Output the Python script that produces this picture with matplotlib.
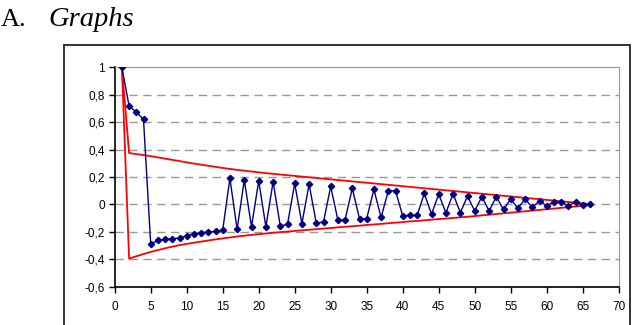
import matplotlib
matplotlib.use("Agg")
import matplotlib.pyplot as plt
from matplotlib.patches import Rectangle

lags = list(range(1, 67))
acf = [1.0, 0.717, 0.674, 0.62, -0.29, -0.262, -0.255, -0.25, -0.245, -0.227,
       -0.215, -0.205, -0.203, -0.197, -0.187, 0.19, -0.182, 0.178, -0.163, 0.171,
       -0.163, 0.165, -0.158, -0.144, 0.153, -0.14, 0.147, -0.137, -0.128, 0.131,
       -0.115, -0.11, 0.117, -0.105, -0.103, 0.109, -0.095, 0.099, 0.099, -0.083,
       -0.08, -0.08, 0.08, -0.071, 0.075, -0.061, 0.078, -0.06, 0.06, -0.047,
       0.056, -0.047, 0.056, -0.037, 0.039, -0.027, 0.039, -0.022, 0.027, -0.012,
       0.019, 0.019, -0.012, 0.019, -0.007, 0.002]
upper = [1.0, 0.375, 0.367, 0.360, 0.352, 0.343, 0.334, 0.325, 0.316, 0.307,
         0.298, 0.290, 0.282, 0.274, 0.266, 0.259, 0.252, 0.246, 0.240, 0.234,
         0.228, 0.223, 0.218, 0.213, 0.208, 0.203, 0.198, 0.193, 0.188, 0.183,
         0.178, 0.173, 0.168, 0.163, 0.158, 0.153, 0.148, 0.143, 0.138, 0.133,
         0.128, 0.123, 0.118, 0.113, 0.108, 0.103, 0.098, 0.093, 0.088, 0.083,
         0.078, 0.073, 0.068, 0.063, 0.058, 0.053, 0.048, 0.043, 0.038, 0.033,
         0.028, 0.023, 0.018, 0.013, 0.008, 0.003]
lower = [1.0, -0.395, -0.378, -0.362, -0.346, -0.333, -0.320, -0.308, -0.297, -0.288,
         -0.279, -0.271, -0.263, -0.255, -0.248, -0.241, -0.234, -0.228, -0.222, -0.217,
         -0.212, -0.207, -0.202, -0.198, -0.193, -0.189, -0.185, -0.180, -0.176, -0.172,
         -0.167, -0.163, -0.159, -0.155, -0.150, -0.146, -0.142, -0.137, -0.133, -0.129,
         -0.124, -0.120, -0.116, -0.111, -0.107, -0.103, -0.099, -0.094, -0.090, -0.085,
         -0.080, -0.075, -0.070, -0.065, -0.060, -0.055, -0.050, -0.045, -0.040, -0.035,
         -0.030, -0.025, -0.020, -0.015, -0.010, -0.005]

xticks = list(range(0, 75, 5))
yticks = [-0.6, -0.4, -0.2, 0, 0.2, 0.4, 0.6, 0.8, 1]
ylabels = ["-0,6", "-0,4", "-0,2", "0", "0,2", "0,4", "0,6", "0,8", "1"]

W, H = 635, 325
fig = plt.figure(figsize=(W / 100, H / 100), dpi=100)
fig.patch.set_facecolor("white")

# outer chart frame
fig.patches.append(Rectangle((64 / W, -0.05), (630 - 64) / W, 1.05 - 45 / H,
                             transform=fig.transFigure, fill=False,
                             edgecolor="#222222", linewidth=1.3))

fig.text(1 / W, 1 - 26 / H, "A.", fontfamily="Liberation Serif", fontsize=19,
         ha="left", va="baseline")
fig.text(48 / W, 1 - 26 / H, "Graphs", fontfamily="Liberation Serif", fontsize=20.5,
         style="italic", ha="left", va="baseline")

ax = fig.add_axes([114.7 / W, (H - 286.7) / H, 504 / W, (286.7 - 67.3) / H])
ax.set_xlim(0, 70)
ax.set_ylim(-0.6, 1)

for y in yticks[:-1]:
    ax.axhline(y, color="#999999", linewidth=1.0, linestyle=(0, (6, 4)), zorder=1)

ax.plot(lags, upper, color="#FF0000", linewidth=1.3, zorder=2)
ax.plot(lags, lower, color="#FF0000", linewidth=1.3, zorder=2)
ax.plot(lags, acf, color="#000080", linewidth=1.0, marker="D", markersize=3.2,
        markerfacecolor="#000080", markeredgecolor="#000080", zorder=3)

ax.set_xticks(xticks)
ax.set_xticklabels([str(t) for t in xticks])
ax.set_yticks(yticks)
ax.set_yticklabels(ylabels)
for lab in ax.get_xticklabels() + ax.get_yticklabels():
    lab.set_fontfamily("Liberation Sans")
    lab.set_fontsize(8.5)
ax.tick_params(direction="out", length=4, width=1, color="black", pad=3)
ax.tick_params(axis="x", pad=6)

ax.spines["left"].set_color("black")
ax.spines["bottom"].set_color("black")
ax.spines["left"].set_linewidth(1.2)
ax.spines["bottom"].set_linewidth(1.2)
ax.spines["top"].set_color("#999999")
ax.spines["right"].set_color("#999999")

fig.savefig("out.png", dpi=100)
